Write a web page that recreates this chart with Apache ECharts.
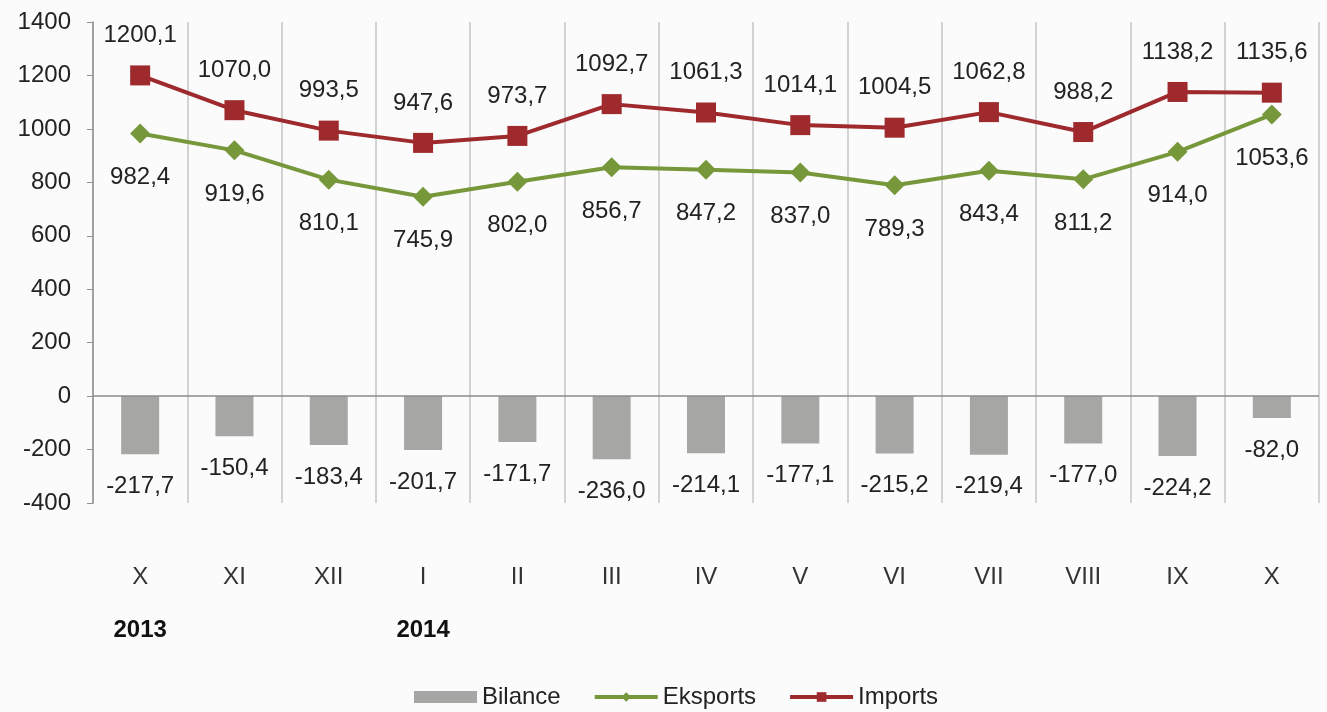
<!DOCTYPE html>
<html>
<head>
<meta charset="utf-8">
<script src="https://cdn.jsdelivr.net/npm/echarts@6/dist/echarts.min.js"></script>
<style>
  html, body { margin: 0; padding: 0; background: #fafbfa; }
  #chart { width: 1327px; height: 712px; }
</style>
</head>
<body>
<div id="chart"></div>
<script>
const months = ['X', 'XI', 'XII', 'I', 'II', 'III', 'IV', 'V', 'VI', 'VII', 'VIII', 'IX', 'X'];
const years = ['2013', '', '', '2014', '', '', '', '', '', '', '', '', ''];
const bilance = [-217.7, -150.4, -183.4, -201.7, -171.7, -236.0, -214.1, -177.1, -215.2, -219.4, -177.0, -224.2, -82.0];
const eksports = [982.4, 919.6, 810.1, 745.9, 802.0, 856.7, 847.2, 837.0, 789.3, 843.4, 811.2, 914.0, 1053.6];
const imports = [1200.1, 1070.0, 993.5, 947.6, 973.7, 1092.7, 1061.3, 1014.1, 1004.5, 1062.8, 988.2, 1138.2, 1135.6];

const font = 'Liberation Sans, Arial, sans-serif';
const fmt = p => p.value.toFixed(1).replace('.', ',');
const green = '#77973b';
const red = '#9e2a2e';

const myChart = echarts.init(document.getElementById('chart'));
const option = {
  animation: false,
  backgroundColor: '#fafbfa',
  textStyle: { fontFamily: font },
  grid: { left: 93, right: 8, top: 22, bottom: 209 },
  legend: {
    top: 680,
    left: 409,
    itemWidth: 63,
    itemHeight: 12,
    itemGap: 32,
    textStyle: { fontSize: 24, color: '#222', fontFamily: font },
    data: [
      { name: 'Bilance', icon: 'rect' },
      { name: 'Eksports', lineStyle: { width: 4, color: green } },
      { name: 'Imports', lineStyle: { width: 4, color: red } }
    ]
  },
  xAxis: {
    type: 'category',
    data: months,
    axisLine: { show: false },
    axisTick: { show: false },
    splitLine: { show: true, lineStyle: { color: '#c4c4c4', width: 1.5 } },
    axisLabel: {
      margin: 48,
      interval: 0,
      formatter: (v, i) => '{m|' + v + '}\n{y|' + (years[i] || ' ') + '}',
      rich: {
        m: { fontSize: 24, color: '#333', fontFamily: font, lineHeight: 53 },
        y: { fontSize: 24, color: '#111', fontWeight: 'bold', fontFamily: font, lineHeight: 53 }
      }
    }
  },
  yAxis: {
    type: 'value',
    min: -400,
    max: 1400,
    interval: 200,
    axisLine: { show: true, lineStyle: { color: '#909090', width: 1.5 } },
    axisTick: { show: true, length: 6, lineStyle: { color: '#909090' } },
    splitLine: { show: false },
    axisLabel: { fontSize: 24, color: '#222', margin: 22, fontFamily: font, formatter: v => String(v) }
  },
  series: [
    {
      name: 'Bilance',
      type: 'bar',
      data: bilance,
      barWidth: 38,
      itemStyle: { color: '#a6a7a5' },
      label: { show: true, position: 'bottom', distance: 20, formatter: fmt, fontSize: 24, color: '#222', fontFamily: font },
      markLine: {
        silent: true,
        symbol: 'none',
        label: { show: false },
        lineStyle: { color: '#8c8c8c', width: 1.5, type: 'solid' },
        data: [{ yAxis: 0 }]
      }
    },
    {
      name: 'Eksports',
      type: 'line',
      data: eksports,
      symbol: 'diamond',
      symbolSize: 20,
      lineStyle: { color: green, width: 4 },
      itemStyle: { color: green },
      label: { show: true, position: 'bottom', distance: 22, formatter: fmt, fontSize: 24, color: '#222', fontFamily: font },
      z: 3
    },
    {
      name: 'Imports',
      type: 'line',
      data: imports,
      symbol: 'rect',
      symbolSize: 20,
      lineStyle: { color: red, width: 4 },
      itemStyle: { color: red },
      label: { show: true, position: 'top', distance: 18, formatter: fmt, fontSize: 24, color: '#222', fontFamily: font },
      z: 4
    }
  ]
};
myChart.setOption(option);
</script>
</body>
</html>
